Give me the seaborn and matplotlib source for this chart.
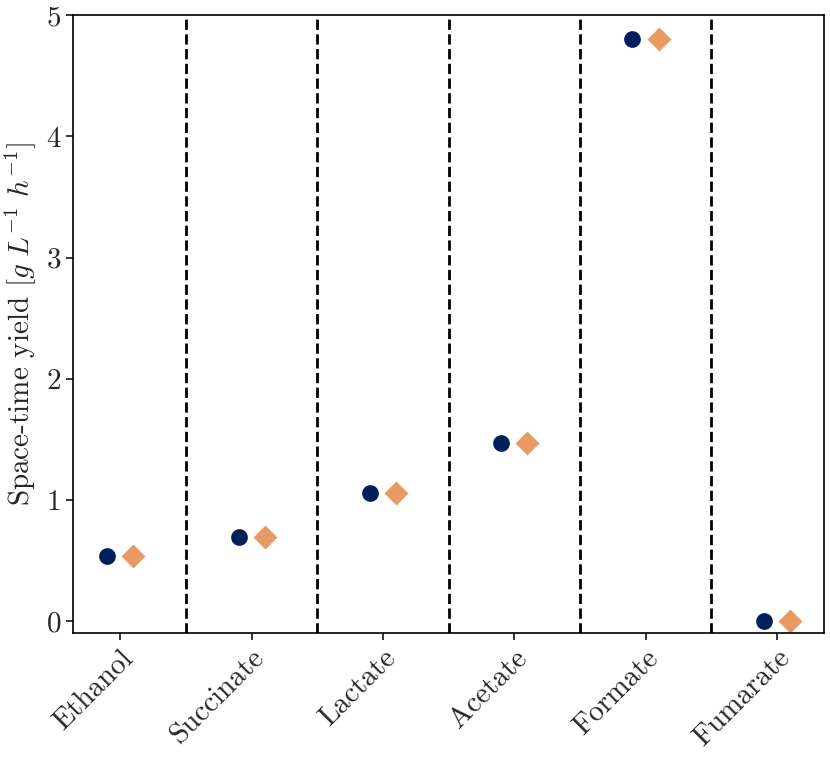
import matplotlib
matplotlib.use("Agg")
import matplotlib.pyplot as plt
import seaborn as sns
import pandas as pd

categories = ["Ethanol", "Succinate", "Lactate", "Acetate", "Formate", "Fumarate"]
series_names = ["A", "B"]
series_a = [0.54, 0.69, 1.06, 1.47, 4.80, 0.00]
series_b = [0.54, 0.69, 1.06, 1.47, 4.80, 0.00]
y_ticks = [0, 1, 2, 3, 4, 5]

sns.set_style("ticks")
plt.rcParams["font.family"] = "serif"
plt.rcParams["font.serif"] = ["cmr10", "DejaVu Serif"]
plt.rcParams["mathtext.fontset"] = "cm"
plt.rcParams["axes.formatter.use_mathtext"] = True
plt.rcParams["axes.unicode_minus"] = False

df = pd.DataFrame({
    "category": categories * 2,
    "series": [series_names[0]] * len(categories) + [series_names[1]] * len(categories),
    "value": series_a + series_b,
})

fig, ax = plt.subplots(figsize=(8.3, 7.61), dpi=100)
fig.subplots_adjust(left=0.088, right=0.993, top=0.980, bottom=0.168)

sns.pointplot(
    data=df, x="category", y="value", hue="series", order=categories,
    palette=["#001f5b", "#e99a63"], markers=["o", "D"], linestyles="none",
    dodge=0.2, errorbar=None, legend=False, markersize=10, ax=ax,
)

for i in range(len(categories) - 1):
    ax.axvline(i + 0.5, color="black", linestyle="--", linewidth=2, zorder=0)

ax.set_xlim(-0.36, len(categories) - 1 + 0.36)
ax.set_ylim(-0.1, 5)
ax.set_yticks(y_ticks)
ax.set_yticklabels([str(t) for t in y_ticks])
ax.set_xlabel("")
ax.set_ylabel(r"Space-time yield [$g\ L^{-1}\ h^{-1}$]", fontsize=21, labelpad=6)
ax.tick_params(axis="both", labelsize=21, length=5, width=1.1, color="black")
plt.setp(ax.get_xticklabels(), rotation=45, ha="right", rotation_mode="anchor")
for s in ax.spines.values():
    s.set_linewidth(1.2)
    s.set_color("black")

fig.savefig("out.png", dpi=100)
